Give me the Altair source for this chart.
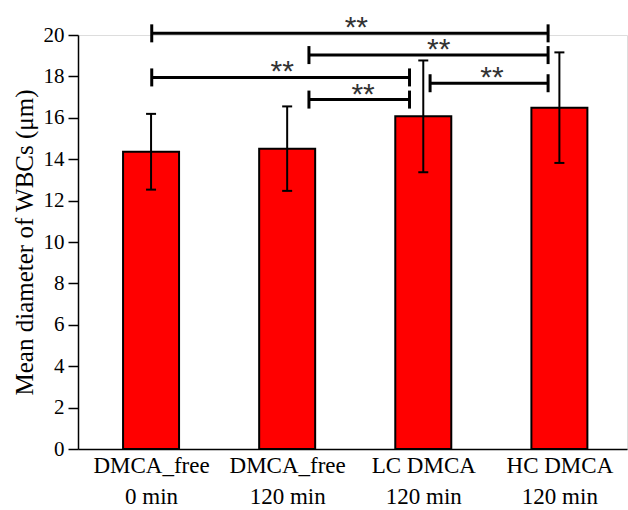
import altair as alt
import pandas as pd

# Group positions on the x axis and their two-line labels
groups = [1, 2, 3, 4]
label_top = ["DMCA_free", "DMCA_free", "LC DMCA", "HC DMCA"]
label_bottom = ["0 min", "120 min", "120 min", "120 min"]

# Mean WBC diameter (µm) and standard deviation per group
mean_diam = [14.36, 14.51, 16.07, 16.49]
sd_diam = [1.83, 2.04, 2.70, 2.67]

# Significance brackets: start, end, height and where the "**" sits
brk_start = [1.005, 2.16, 1.005, 2.16, 3.05]
brk_end = [3.917, 3.917, 2.899, 2.899, 3.917]
brk_level = [20.08, 19.03, 17.95, 16.88, 17.67]
star_x = [2.508, 3.114, 1.964, 2.558, 3.505]
star_text = ["**", "**", "**", "**", "**"]

FONT = "Liberation Serif"

bars_df = pd.DataFrame({"g": groups, "mean": mean_diam, "sd": sd_diam})
brk_df = pd.DataFrame({"s": brk_start, "e": brk_end, "lvl": brk_level,
                       "sx": star_x, "txt": star_text})

label_expr = "[" + ",".join(
    f"['{a}','{b}']" for a, b in zip(label_top, label_bottom)
) + "][datum.value - 1]"

x_scale = alt.Scale(domain=[0.5, 4.46], nice=False, zero=False)
y_scale = alt.Scale(domain=[0, 20], nice=False)

x_axis = alt.Axis(
    values=groups, labelExpr=label_expr, title=None, ticks=False,
    grid=False, domainColor="black", domainWidth=1.5,
    labelFont=FONT, labelFontSize=23, labelColor="black",
    labelPadding=5, labelLineHeight=31, labelFlush=False,
)
y_axis = alt.Axis(
    values=list(range(0, 21)),
    labelExpr="datum.value % 2 === 0 ? datum.label : ''",
    tickSize={"condition": {"test": "datum.value % 2 === 0", "value": 10}, "value": 5},
    tickColor="black", tickWidth=1.5, domainColor="black", domainWidth=1.5,
    grid=False, labelFont=FONT, labelFontSize=21, labelColor="black",
    labelPadding=4, title="Mean diameter of WBCs (μm)", titleFont=FONT,
    titleFontSize=25, titleFontWeight="normal", titleColor="black",
    titlePadding=6,
)

base = alt.Chart(bars_df)

bars = base.mark_bar(size=56, color="#ff0000", stroke="black", strokeWidth=2).encode(
    x=alt.X("g:Q", scale=x_scale, axis=x_axis),
    y=alt.Y("mean:Q", scale=y_scale, axis=y_axis),
    y2=alt.datum(0),
)

err = base.transform_calculate(
    lo="datum.mean - datum.sd", hi="datum.mean + datum.sd"
)
err_line = err.mark_rule(color="black", strokeWidth=2).encode(
    x="g:Q", y="lo:Q", y2="hi:Q"
)
cap_lo = err.mark_tick(orient="horizontal", size=10, thickness=2, color="black",
                       opacity=1).encode(x="g:Q", y="lo:Q")
cap_hi = err.mark_tick(orient="horizontal", size=10, thickness=2, color="black",
                       opacity=1).encode(x="g:Q", y="hi:Q")

bk = alt.Chart(brk_df)
brk_line = bk.mark_rule(color="black", strokeWidth=3, clip=False).encode(
    x="s:Q", x2="e:Q", y="lvl:Q"
)
brk_left = bk.mark_tick(orient="vertical", size=18, thickness=3, color="black",
                        opacity=1, clip=False).encode(x="s:Q", y="lvl:Q")
brk_right = bk.mark_tick(orient="vertical", size=18, thickness=3, color="black",
                         opacity=1, clip=False).encode(x="e:Q", y="lvl:Q")
stars = bk.mark_text(font="Liberation Sans", fontSize=30, color="#333333",
                     baseline="alphabetic", dy=4, clip=False).encode(
    x="sx:Q", y="lvl:Q", text="txt:N"
)

chart = alt.layer(
    bars, err_line, cap_lo, cap_hi, brk_line, brk_left, brk_right, stars
).properties(
    width=549, height=414,
    autosize=alt.AutoSizeParams(type="none"),
    padding={"left": 78, "top": 35, "right": 1, "bottom": 61},
).configure_view(stroke=None).configure(background="white")

chart.save("out.html", embed_options={"renderer": "svg", "actions": False})
